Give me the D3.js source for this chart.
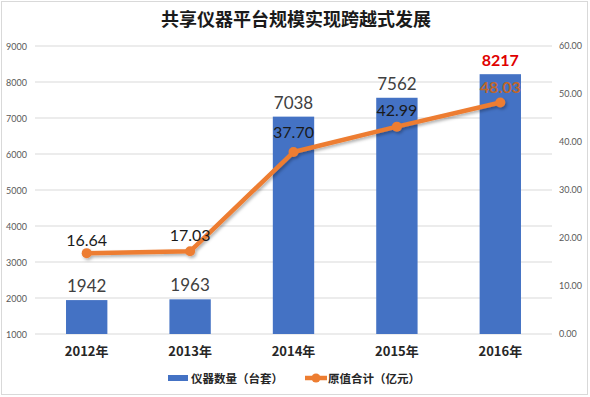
<!DOCTYPE html>
<html><head><meta charset="utf-8">
<script src="https://cdn.jsdelivr.net/npm/d3@7/dist/d3.min.js"></script>
<style>
body{margin:0;background:#fff;}
svg{display:block;}
</style></head>
<body>
<svg id="c" width="590" height="397"></svg>
<script>
const title = "共享仪器平台规模实现跨越式发展";
const categories = ["2012年","2013年","2014年","2015年","2016年"];
const instruments = [1942,1963,7038,7562,8217];
const values = [16.64,17.03,37.70,42.99,48.03];
const leftTicks = [1000,2000,3000,4000,5000,6000,7000,8000,9000];
const rightTicks = [0,10,20,30,40,50,60];
const seriesNames = ["仪器数量（台套）","原值合计（亿元）"];

const svg = d3.select("#c");
const cjk = "'Noto Sans CJK SC','Noto Sans',sans-serif";
const num = "Lato,'Open Sans',sans-serif";

// border
svg.append("rect").attr("x",1.5).attr("y",1.5).attr("width",586).attr("height",393)
  .attr("fill","#fff").attr("stroke","#d9d9d9");

const defs = svg.append("defs");
const f = defs.append("filter").attr("id","sh").attr("x","-10%").attr("y","-10%").attr("width","120%").attr("height","130%");
f.append("feDropShadow").attr("dx",1.5).attr("dy",2).attr("stdDeviation",1.5).attr("flood-color","#000").attr("flood-opacity",0.3);

const x = d3.scaleBand().domain(categories).range([35,552]).paddingInner(0.6).paddingOuter(0.3);
const yL = d3.scaleLinear().domain([1000,9000]).range([334,46]);
const yR = d3.scaleLinear().domain([0,60]).range([333,45]);

// gridlines
svg.append("g").selectAll("line").data(leftTicks).join("line")
  .attr("x1",35).attr("x2",552).attr("y1",d=>yL(d)).attr("y2",d=>yL(d))
  .attr("stroke","#d9d9d9").attr("stroke-width",1);

// left axis
const axL = svg.append("g").attr("transform","translate(27,0)")
  .call(d3.axisLeft(yL).tickValues(leftTicks).tickSize(0).tickPadding(0).tickFormat(d3.format("d")));
axL.select(".domain").remove();
axL.selectAll("text").attr("font-family",num).attr("font-size",9).attr("fill","#595959").attr("dy","0.35em");

// right axis
const axR = svg.append("g").attr("transform","translate(559,0)")
  .call(d3.axisRight(yR).tickValues(rightTicks).tickSize(0).tickPadding(0).tickFormat(d3.format(".2f")));
axR.select(".domain").remove();
axR.selectAll("text").attr("font-family",num).attr("font-size",9).attr("fill","#595959").attr("dy","0.35em");

// x axis labels
const axX = svg.append("g").attr("transform","translate(0,344)")
  .call(d3.axisBottom(x).tickSize(0).tickPadding(0));
axX.select(".domain").remove();
axX.selectAll("text").attr("font-family",cjk).attr("font-size",13).attr("font-weight",700).attr("fill","#262626").attr("dy","0.95em");

// bars
svg.append("g").selectAll("rect").data(instruments).join("rect")
  .attr("x",(d,i)=>x(categories[i])).attr("width",x.bandwidth())
  .attr("y",d=>yL(d)).attr("height",d=>yL(1000)-yL(d)).attr("fill","#4472C4");

// bar labels
svg.append("g").selectAll("text").data(instruments).join("text")
  .attr("x",(d,i)=>x(categories[i])+x.bandwidth()/2).attr("y",d=>yL(d)-8)
  .attr("text-anchor","middle").attr("font-family",num)
  .attr("font-size",(d,i)=>i===4?16:17)
  .attr("font-weight",(d,i)=>i===4?700:400)
  .attr("fill",(d,i)=>i===4?"#E00000":"#404040").text(d=>d);

// line
const line = d3.line().x((d,i)=>x(categories[i])+x.bandwidth()/2).y(d=>yR(d));
const lg = svg.append("g").attr("filter","url(#sh)");
lg.append("path").datum(values).attr("d",line).attr("fill","none")
  .attr("stroke","#ED7D31").attr("stroke-width",4.5).attr("stroke-linejoin","round");
lg.selectAll("circle").data(values).join("circle")
  .attr("cx",(d,i)=>x(categories[i])+x.bandwidth()/2).attr("cy",d=>yR(d)).attr("r",5)
  .attr("fill","#ED7D31");

// line labels
const lOff = [7,10,14,11,9];
svg.append("g").selectAll("text").data(values).join("text")
  .attr("x",(d,i)=>x(categories[i])+x.bandwidth()/2).attr("y",(d,i)=>yR(d)-lOff[i])
  .attr("text-anchor","middle").attr("font-family",num).attr("font-size",16)
  .attr("font-weight",(d,i)=>i===4?700:400)
  .attr("fill",(d,i)=>i===4?"#C0662A":"#1a1a1a").text(d=>d.toFixed(2));

// title
svg.append("text").attr("x",296).attr("y",26).attr("text-anchor","middle")
  .attr("font-family",cjk).attr("font-size",18).attr("font-weight",700).attr("fill","#1a1a1a").text(title);

// legend
const leg = svg.append("g");
leg.append("rect").attr("x",168).attr("y",375).attr("width",20).attr("height",6).attr("fill","#4472C4");
leg.append("text").attr("x",191).attr("y",383).attr("font-family",cjk).attr("font-size",11.5).attr("font-weight",700).attr("fill","#262626").text(seriesNames[0]);
leg.append("line").attr("x1",305).attr("x2",327).attr("y1",378).attr("y2",378).attr("stroke","#ED7D31").attr("stroke-width",4.5);
leg.append("circle").attr("cx",316).attr("cy",378).attr("r",4.5).attr("fill","#ED7D31");
leg.append("text").attr("x",328).attr("y",383).attr("font-family",cjk).attr("font-size",11.5).attr("font-weight",700).attr("fill","#262626").text(seriesNames[1]);
</script>
</body></html>
